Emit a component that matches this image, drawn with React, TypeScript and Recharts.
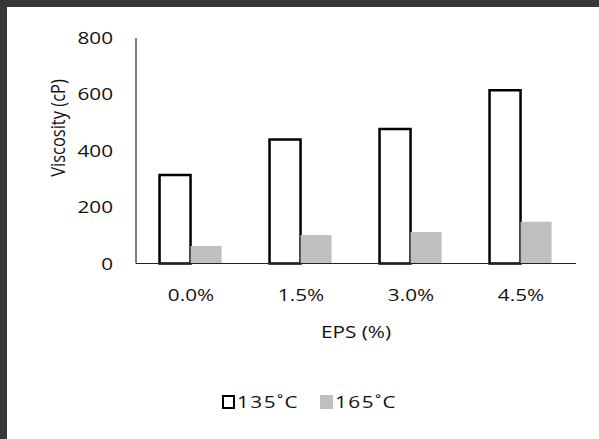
import { BarChart, Bar, XAxis, YAxis, Legend, Label } from "recharts";

const categories = ["0.0%", "1.5%", "3.0%", "4.5%"];
const visc135 = [314, 440, 477, 615];
const visc165 = [62, 101, 112, 148];
const yTicks = [0, 200, 400, 600, 800];

const data = categories.map((eps, i) => ({
  eps,
  t135: visc135[i],
  t165: visc165[i],
}));

const FONT = '"Open Sans", sans-serif';
const TEXT = "#111";
// text is drawn slightly wide, like the original export
const WIDE = 1.22;

const seriesStyle: Record<string, { fill: string; border: string }> = {
  t135: { fill: "#fff", border: "2px solid #000" },
  t165: { fill: "#bfbfbf", border: "none" },
};

function XTick({ x, y, payload }: any) {
  return (
    <g transform={`translate(${x},${y})`}>
      <text
        transform={`scale(${WIDE},1)`}
        textAnchor="middle"
        dy="0.357em"
        fontFamily={FONT}
        fontSize={17}
        fontWeight={500}
        fill={TEXT}
      >
        {payload.value}
      </text>
    </g>
  );
}

function YTick({ x, y, payload }: any) {
  return (
    <g transform={`translate(${x},${y})`}>
      <text
        transform={`scale(${WIDE},1)`}
        textAnchor="end"
        dy="0.357em"
        fontFamily={FONT}
        fontSize={17}
        fontWeight={500}
        fill={TEXT}
      >
        {payload.value}
      </text>
    </g>
  );
}

function XLabel({ viewBox }: any) {
  const cx = viewBox.x + viewBox.width / 2;
  return (
    <g transform={`translate(${cx},${viewBox.y + 68})`}>
      <text
        transform={`scale(${WIDE},1)`}
        textAnchor="middle"
        dy="0.357em"
        fontFamily={FONT}
        fontSize={17}
        fontWeight={500}
        fill={TEXT}
      >
        EPS (%)
      </text>
    </g>
  );
}

function YLabel({ viewBox }: any) {
  return (
    <g transform={`translate(${viewBox.x + 57.5},${viewBox.y + 90}) rotate(-90)`}>
      <text
        transform={`scale(1,${WIDE})`}
        textAnchor="middle"
        dy="0.357em"
        fontFamily={FONT}
        fontSize={16.5}
        fontWeight={500}
        fill={TEXT}
      >
        Viscosity (cP)
      </text>
    </g>
  );
}

function LegendContent({ payload }: any) {
  return (
    <div style={{ display: "flex", alignItems: "center" }}>
      {(payload || []).map((entry: any) => {
        const s = seriesStyle[entry.dataKey];
        return (
          <div
            key={entry.dataKey}
            style={{ width: 98, display: "flex", alignItems: "center" }}
          >
            <span
              style={{
                width: 13,
                height: 14,
                boxSizing: "border-box",
                background: s.fill,
                border: s.border,
                marginRight: 2.5,
              }}
            />
            <span
              style={{
                display: "inline-block",
                transform: `scaleX(${WIDE})`,
                transformOrigin: "left center",
                fontFamily: FONT,
                fontSize: 17,
                fontWeight: 500,
                letterSpacing: 1.2,
                color: TEXT,
                lineHeight: "20px",
                whiteSpace: "nowrap",
              }}
            >
              {entry.value}
            </span>
          </div>
        );
      })}
    </div>
  );
}

export default function App() {
  return (
    <div
      style={{
        position: "absolute",
        left: 0,
        top: 0,
        width: 599,
        height: 439,
        background: "#373737",
      }}
    >
      <div
        style={{
          position: "absolute",
          left: 7,
          top: 7,
          width: 592,
          height: 432,
          background: "#fff",
        }}
      />
      <div style={{ position: "absolute", left: 0, top: 0 }}>
        <BarChart
          width={599}
          height={439}
          data={data}
          margin={{ top: 38, right: 23, left: 0, bottom: 95.5 }}
          barCategoryGap="21.4%"
          barGap={0}
        >
          <XAxis
            dataKey="eps"
            height={80}
            tickLine={false}
            tickSize={0}
            tickMargin={31.5}
            axisLine={{ stroke: "#222", strokeWidth: 1 }}
            tick={<XTick />}
            interval={0}
          >
            <Label content={XLabel} />
          </XAxis>
          <YAxis
            width={136}
            domain={[0, 800]}
            ticks={yTicks}
            interval={0}
            tickLine={false}
            tickSize={0}
            tickMargin={23}
            axisLine={{ stroke: "#000", strokeWidth: 1 }}
            tick={<YTick />}
          >
            <Label content={YLabel} />
          </YAxis>
          <Bar
            dataKey="t135"
            name="135˚C"
            fill="#fff"
            stroke="#000"
            strokeWidth={2.5}
            isAnimationActive={false}
          />
          <Bar
            dataKey="t165"
            name="165˚C"
            fill="#bfbfbf"
            isAnimationActive={false}
          />
          {/* middle alignment keeps the legend out of the plot offset */}
          <Legend
            verticalAlign="middle"
            content={<LegendContent />}
            wrapperStyle={{ left: 221.5, top: 392, width: 240 }}
          />
        </BarChart>
      </div>
    </div>
  );
}
